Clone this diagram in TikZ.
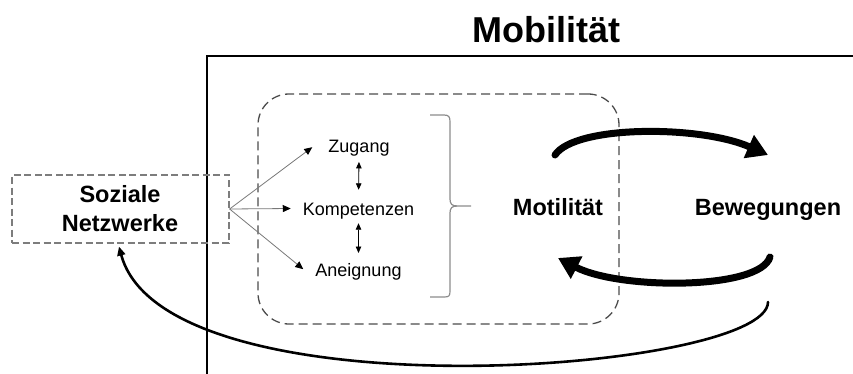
\documentclass[tikz,border=0pt]{standalone}
\usepackage{fontspec}
\setmainfont{Liberation Sans}
\usetikzlibrary{arrows.meta,calc}
\definecolor{dashdark}{RGB}{75,75,75}
\definecolor{sozgray}{RGB}{125,125,125}
\definecolor{thingray}{RGB}{120,120,120}
\definecolor{bracegray}{RGB}{140,140,140}
\begin{document}
\begin{tikzpicture}[x=1pt,y=-1pt,
  titletext/.style={font=\fontsize{36}{40}\selectfont\bfseries, inner sep=0pt},
  boldtext/.style={font=\fontsize{23.5}{29}\selectfont\bfseries, align=center, inner sep=2pt},
  smalltext/.style={font=\fontsize{18}{20}\selectfont, text height=13pt, text depth=4pt, inner sep=2pt},
  sozbox/.style={draw=sozgray, line width=1.2pt, dash pattern=on 7pt off 3.5pt, minimum width=217pt, minimum height=68pt, inner sep=0pt},
  regionbox/.style={draw=dashdark, line width=1.3pt, dash pattern=on 9pt off 5pt, rounded corners=31pt, minimum width=361pt, minimum height=230pt},
  thinarrow/.style={draw=thingray, line width=0.8pt, -{Triangle[length=8pt,width=7pt,fill=black,color=black]}},
  dblarrow/.style={draw=black, line width=0.8pt, {Triangle[length=6.5pt,width=5.5pt]}-{Triangle[length=6.5pt,width=5.5pt]}},
  heavyarrow/.style={draw=black, line width=7pt, line cap=round, -{Triangle[length=21pt,width=24pt]}},
  longarrow/.style={draw=black, line width=2.6pt, line cap=round, -{Triangle[length=9pt,width=8pt]}}
]
\useasboundingbox (0,0) rectangle (853,374);

% frame
\draw[line width=2pt] (207,380) -- (207,56) -- (870,56);
\node[titletext, anchor=base] (title) at (546,43) {Mobilität};

% region
\node[regionbox] (region) at (438.5,209) {};

% soziale netzwerke
\node[sozbox] (soz) at (120.5,209) {};
\node[boldtext, anchor=base] (soz1) at (120,202.7) {Soziale};
\node[boldtext, anchor=base] (soz2) at (120,231.7) {Netzwerke};

% small texts
\node[smalltext, anchor=base] (zug) at (359,152.7) {Zugang};
\node[smalltext, anchor=base] (komp) at (358.5,215) {Kompetenzen};
\node[smalltext, anchor=base] (aneig) at (358.5,276.7) {Aneignung};

% bold texts
\node[boldtext, anchor=base] (mot) at (558,215) {Motilität};
\node[boldtext, anchor=base] (bew) at (768,215) {Bewegungen};

% arrows from soziale netzwerke
\draw[thinarrow] (soz.east) -- ($(zug.west)+(-14,-1)$);
\draw[thinarrow] (soz.east) -- ($(komp.west)+(-10,-2)$);
\draw[thinarrow] (soz.east) -- ($(aneig.west)+(-10,-3)$);

% double arrows
\draw[dblarrow, shorten <=3pt, shorten >=10pt] (zug.south) -- (komp.north);
\draw[dblarrow, shorten <=2pt, shorten >=8.5pt] (komp.south) -- (aneig.north);

% brace
\draw[bracegray, line width=1.2pt]
  (430,115) -- (444,115) .. controls (449,115) and (450,117) .. (450,122)
  -- (450,199) .. controls (450,204) and (452,206) .. (457,206) -- (471,206);
\draw[bracegray, line width=1.2pt]
  (457,206) .. controls (452,206) and (450,208) .. (450,213)
  -- (450,291) .. controls (450,296) and (449,297) .. (444,297) -- (430,297);

% heavy arrows
\coordinate (u1) at ($(mot.base)+(-3,-60)$);
\coordinate (u2) at ($(bew.base)+(0,-60)$);
\coordinate (l1) at ($(bew.base)+(2,42)$);
\coordinate (l2) at ($(mot.base)+(0,43)$);
\draw[heavyarrow] (u1) .. controls (575,125) and (700,125) .. (u2);
\draw[heavyarrow] (l1) .. controls (760,290) and (620,290) .. (l2);

% long arrow back to soziale netzwerke
\coordinate (b1) at ($(bew.base)+(0,87)$);
\draw[longarrow] (b1) .. controls (768,372) and (165,418) .. ($(soz.south)+(-1.5,3)$);
\end{tikzpicture}
\end{document}
